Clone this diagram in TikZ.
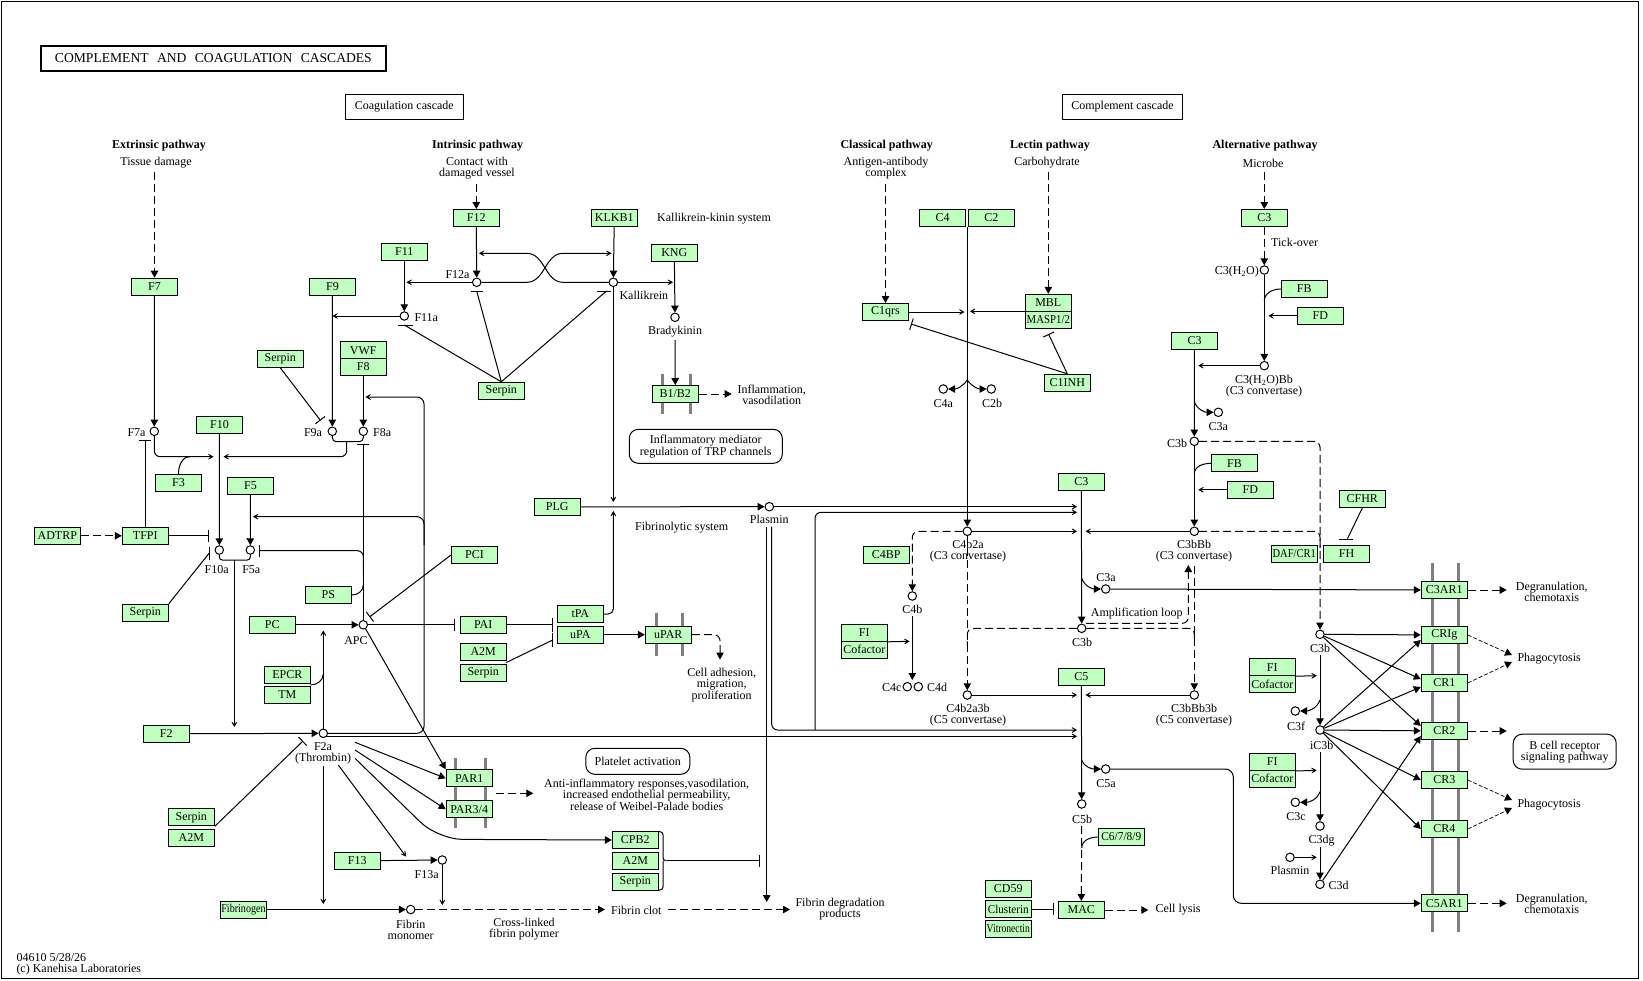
\documentclass[tikz,border=0pt]{standalone}
\usepackage{fontspec}
\usepackage{graphicx}
\setmainfont{Liberation Serif}
\usetikzlibrary{arrows.meta, positioning, calc}
\definecolor{kgreen}{HTML}{BFFFBF}
\definecolor{kgrey}{HTML}{808080}
\newcommand{\sq}[2][0.86]{\scalebox{#1}[1]{#2}}
\tikzset{
  every picture/.style={line width=1pt, x=1pt, y=-1pt},
  gene/.style={draw, fill=kgreen, minimum width=46pt, minimum height=17pt, inner sep=0pt, font=\fontsize{12}{12}\selectfont},
  cpd/.style={circle, draw, fill=white, minimum size=8.5pt, inner sep=0pt},
  lbl/.style={font=\fontsize{12}{11}\selectfont, inner sep=0pt, align=center},
  hdr/.style={lbl, font=\fontsize{12}{11}\selectfont\bfseries},
  mapbox/.style={draw, lbl, rounded corners=9pt},
  titlebox/.style={draw, lbl},
  act/.style={-{Triangle[length=7pt,width=7.5pt]}},
  ind/.style={-{Stealth[length=8pt,width=9pt,inset=5.5pt]}},
  inh/.style={-{Bar[width=12pt]}},
  dsh/.style={dash pattern=on 8pt off 4pt},
  thindash/.style={dash pattern=on 4pt off 2pt, line width=0.7pt},
  memb/.style={draw=kgrey, line width=3pt},
}

\begin{document}
\begin{tikzpicture}
\useasboundingbox (0,0) rectangle (1643,980);
\draw (1,1) rectangle (1638,978);

% membranes
\foreach \x in {662.7, 690} \draw[memb] (\x,374.3) -- (\x,414.3);
\foreach \x in {656, 682.7} \draw[memb] (\x,613.3) -- (\x,656);
\foreach \x in {455, 485} \draw[memb] (\x,757.7) -- (\x,828.3);
\foreach \x in {1432.7, 1458.7} \draw[memb] (\x,563.3) -- (\x,931.7);

% titles and headings
\node[titlebox, line width=2pt, minimum width=345pt, minimum height=25pt, font=\fontsize{13.6}{12}\selectfont] (title) at (213.4,58.4) {COMPLEMENT\hspace{5pt} AND\hspace{5pt} COAGULATION\hspace{5pt} CASCADES};
\node[titlebox, minimum width=118pt, minimum height=25pt] (coag) at (404.3,106.8) {Coagulation cascade};
\node[titlebox, minimum width=120pt, minimum height=25pt] (comp) at (1122.5,106.8) {Complement cascade};
\node[hdr] (hext) at (159,146) {Extrinsic pathway};
\node[lbl] (text) at (156,163) {Tissue damage};
\node[hdr] (hint) at (477.7,146) {Intrinsic pathway};
\node[lbl] (tint) at (477,168.5) {Contact with\\damaged vessel};
\node[hdr] (hcla) at (886.7,146) {Classical pathway};
\node[lbl] (tcla) at (886,168.5) {Antigen-antibody\\complex};
\node[hdr] (hlec) at (1050,146) {Lectin pathway};
\node[lbl] (tlec) at (1047,163) {Carbohydrate};
\node[hdr] (halt) at (1265,146) {Alternative pathway};
\node[lbl] (talt) at (1263,163) {Microbe};
\coordinate (s7) at (154.5,172);
\coordinate (s12) at (476.3,184);
\coordinate (s1q) at (885.5,184);
\coordinate (smb) at (1048.3,172);
\coordinate (sc3) at (1264.3,172);

% coagulation genes
\node[gene] (F7) at (154.5,286.7) {F7};
\node[gene] (F9) at (332.5,286.7) {F9};
\node[gene] (F11) at (404.3,252) {F11};
\node[gene] (F12) at (476.3,218) {F12};
\node[gene] (KLKB1) at (614.3,218) {KLKB1};
\node[gene] (KNG) at (674.3,252.8) {KNG};
\node[gene] (serpA) at (501.3,390.8) {Serpin};
\node[gene] (serpB) at (280.3,358.8) {Serpin};
\node[gene] (VWF) at (363.3,350.2) {VWF};
\node[gene] (F8) at (363.3,367) {F8};
\node[gene] (F10) at (219.5,425) {F10};
\node[gene] (F3) at (178.5,482.8) {F3};
\node[gene] (F5) at (250.5,486) {F5};
\node[gene] (ADTRP) at (57.3,535.8) {ADTRP};
\node[gene] (TFPI) at (145.3,535.8) {TFPI};
\node[gene] (serpC) at (145.3,612.7) {Serpin};
\node[gene] (PS) at (328.3,595) {PS};
\node[gene] (PC) at (272.3,624.8) {PC};
\node[gene] (PCI) at (474.5,555) {PCI};
\node[gene] (PAI) at (483.2,624.8) {PAI};
\node[gene] (A2Ma) at (483.2,652) {A2M};
\node[gene] (serpD) at (483.2,672.8) {Serpin};
\node[gene] (tPA) at (580.3,614) {tPA};
\node[gene] (uPA) at (580.3,634.7) {uPA};
\node[gene] (PLG) at (557.3,506.8) {PLG};
\node[gene] (uPAR) at (668.3,634.7) {uPAR};
\node[gene] (B1B2) at (675.3,394) {B1/B2};
\node[gene] (EPCR) at (287.3,675) {EPCR};
\node[gene] (TM) at (287.3,695) {TM};
\node[gene] (F2) at (166.3,733.8) {F2};
\node[gene] (serpE) at (191.3,817.3) {Serpin};
\node[gene] (A2Mb) at (191.3,837.8) {A2M};
\node[gene] (F13) at (357.3,860.8) {F13};
\node[gene] (FBG) at (243.5,909.5) {\sq[0.84]{Fibrinogen}};
\node[gene] (PAR1) at (469.2,778.3) {PAR1};
\node[gene] (PAR34) at (469.2,809.2) {PAR3/4};
\node[gene] (CPB2) at (635.3,840) {CPB2};
\node[gene] (A2Mc) at (635.3,860.8) {A2M};
\node[gene] (serpF) at (635.3,881.7) {Serpin};

% complement genes
\node[gene] (C4) at (942.5,218) {C4};
\node[gene] (C2) at (991.3,218) {C2};
\node[gene] (C1qrs) at (885.5,312) {C1qrs};
\node[gene] (MBL) at (1048.3,302.8) {MBL};
\node[gene] (MASP) at (1048.3,319.8) {\sq[0.9]{MASP1/2}};
\node[gene] (C1INH) at (1067.3,382.8) {C1INH};
\node[gene] (C3t) at (1264.3,218) {C3};
\node[gene] (FBa) at (1304.3,289) {FB};
\node[gene] (FDa) at (1320.3,315.8) {FD};
\node[gene] (C3r) at (1194.5,341) {C3};
\node[gene] (FBb) at (1234.5,463.3) {FB};
\node[gene] (FDb) at (1250.3,489.8) {FD};
\node[gene] (C3m) at (1081.3,482) {C3};
\node[gene] (C4BP) at (886.3,555) {C4BP};
\node[gene] (FIa) at (864.3,632.8) {FI};
\node[gene] (COFa) at (864.3,649.8) {Cofactor};
\node[gene] (C5) at (1081.3,677) {C5};
\node[gene] (C6789) at (1121.3,837) {\sq[0.95]{C6/7/8/9}};
\node[gene] (MAC) at (1081.3,910) {MAC};
\node[gene] (CD59) at (1008.3,888.8) {CD59};
\node[gene] (CLU) at (1008.3,909) {\sq[0.93]{Clusterin}};
\node[gene] (VTN) at (1008.3,929) {\sq[0.8]{Vitronectin}};
\node[gene] (CFHR) at (1362.3,499) {CFHR};
\node[gene] (FH) at (1346.5,554) {FH};
\node[gene] (DAF) at (1294.3,554) {\sq[0.88]{DAF/CR1}};
\node[gene] (FIb) at (1272.3,667.2) {FI};
\node[gene] (COFb) at (1272.3,684) {Cofactor};
\node[gene] (FIc) at (1272.3,762) {FI};
\node[gene] (COFc) at (1272.3,778.7) {Cofactor};
\node[gene] (C3AR1) at (1444.3,590) {C3AR1};
\node[gene] (CRIg) at (1444.3,635) {CRIg};
\node[gene] (CR1) at (1444.3,683) {CR1};
\node[gene] (CR2) at (1444.3,731) {CR2};
\node[gene] (CR3) at (1444.3,780) {CR3};
\node[gene] (CR4) at (1444.3,829) {CR4};
\node[gene] (C5AR1) at (1444.3,903.3) {C5AR1};

% compounds
\node[cpd] (F7a) at (154.3,431.3) {};
\node[cpd] (F9a) at (332.3,431.3) {};
\node[cpd] (F8a) at (363.3,431.3) {};
\node[cpd] (F11a) at (404.3,316) {};
\node[cpd] (F12a) at (476.7,282.3) {};
\node[cpd] (Kal) at (613.3,282.3) {};
\node[cpd] (Brady) at (675,317.3) {};
\node[cpd] (F10a) at (219.3,550) {};
\node[cpd] (F5a) at (250.3,550) {};
\node[cpd] (APC) at (363.3,624.8) {};
\node[cpd] (F2a) at (323.3,733.3) {};
\node[cpd] (Plasmin) at (769.3,506.7) {};
\node[cpd] (F13a) at (442.3,860) {};
\node[cpd] (Fmono) at (410.7,909.5) {};
\node[cpd] (C4a) at (943.3,389) {};
\node[cpd] (C2b) at (991.3,389) {};
\node[cpd] (C4b2a) at (967.3,531.3) {};
\node[cpd] (C4b) at (912.3,596) {};
\node[cpd] (C4c) at (907.3,686.7) {};
\node[cpd] (C4d) at (918.3,686.7) {};
\node[cpd] (C3h) at (1264.3,270) {};
\node[cpd] (C3hBb) at (1264.3,365.7) {};
\node[cpd] (C3a1) at (1218.3,412.3) {};
\node[cpd] (C3b1) at (1194.3,441.3) {};
\node[cpd] (C3bBb) at (1194.3,531.3) {};
\node[cpd] (C3a2) at (1105.7,589) {};
\node[cpd] (C3b2) at (1081.7,628.3) {};
\node[cpd] (C4b2a3b) at (967.3,695) {};
\node[cpd] (C3bBb3b) at (1194.3,695) {};
\node[cpd] (C5a) at (1105.7,769) {};
\node[cpd] (C5b) at (1081.7,804) {};
\node[cpd] (C3b3) at (1320,634.3) {};
\node[cpd] (iC3b) at (1320,730) {};
\node[cpd] (C3f) at (1295.3,711) {};
\node[cpd] (C3c) at (1295.3,802.3) {};
\node[cpd] (C3dg) at (1320,826) {};
\node[cpd] (Plas2) at (1290,857.3) {};
\node[cpd] (C3d) at (1320,884.3) {};

% coagulation labels
\node[lbl, anchor=east] (lF7a) at (146,432.7) {F7a};
\node[lbl, anchor=east] (lF9a) at (322.5,432.7) {F9a};
\node[lbl, anchor=west] (lF8a) at (372.7,432.7) {F8a};
\node[lbl, anchor=west] (lF11a) at (414,317.7) {F11a};
\node[lbl, anchor=east] (lF12a) at (470,275) {F12a};
\node[lbl, anchor=west] (lKal) at (619,295) {Kallikrein};
\node[lbl] (lBrady) at (675,331.7) {Bradykinin};
\node[lbl, anchor=west] (lKKS) at (656.7,219) {Kallikrein-kinin system};
\node[lbl] (lInfl) at (771.7,394.5) {Inflammation,\\vasodilation};
\node[mapbox, minimum width=153pt, minimum height=34pt] (trp) at (705.8,446.3) {Inflammatory mediator\\regulation of TRP channels};
\node[lbl] (lF10a) at (216.7,570) {F10a};
\node[lbl] (lF5a) at (251.3,570) {F5a};
\node[lbl] (lAPC) at (356,640.7) {APC};
\node[lbl] (lF2a) at (323,753.5) {F2a\\(Thrombin)};
\node[lbl] (lPlasmin) at (769.3,519.3) {Plasmin};
\node[lbl] (lFib) at (681.7,527.7) {Fibrinolytic system};
\node[lbl] (lCell) at (721.7,685) {Cell adhesion,\\migration,\\proliferation};
\node[mapbox, minimum width=104pt, minimum height=26pt] (plt) at (637.8,761.3) {Platelet activation};
\node[lbl] (lAnti) at (646.7,795) {Anti-inflammatory responses,vasodilation,\\increased endothelial permeability,\\release of Weibel-Palade bodies};
\node[lbl] (lF13a) at (426.7,875) {F13a};
\node[lbl] (lMono) at (410.7,929.5) {Fibrin\\monomer};
\node[lbl] (lCross) at (524,929.5) {Cross-linked\\fibrin polymer};
\node[lbl, anchor=west] (lClot) at (610.7,910) {Fibrin clot};
\node[lbl] (lFdp) at (840,909.5) {Fibrin degradation\\products};
\node[lbl, anchor=west, align=left] (foot) at (16,964.5) {04610 5/28/26\\(c) Kanehisa Laboratories};

% complement labels
\node[lbl] (lC4a) at (943.3,403.3) {C4a};
\node[lbl] (lC2b) at (992,403.3) {C2b};
\node[lbl] (lC4b2a) at (968,551) {C4b2a\\(C3 convertase)};
\node[lbl] (lC4b) at (912.3,609.7) {C4b};
\node[lbl, anchor=east] (lC4c) at (902,687.7) {C4c};
\node[lbl, anchor=west] (lC4d) at (926.5,687.7) {C4d};
\node[lbl, anchor=east] (lC3h) at (1259.3,272) {C3(H\textsubscript{2}O)};
\node[lbl, anchor=west] (lTick) at (1270.7,242.7) {Tick-over};
\node[lbl] (lC3hBb) at (1264,386.3) {C3(H\textsubscript{2}O)Bb\\(C3 convertase)};
\node[lbl] (lC3a1) at (1218.3,426.7) {C3a};
\node[lbl, anchor=east] (lC3b1) at (1187.7,443.7) {C3b};
\node[lbl] (lC3bBb) at (1194,551) {C3bBb\\(C3 convertase)};
\node[lbl] (lC3a2) at (1106,577.7) {C3a};
\node[lbl] (lAmp) at (1136.7,614) {Amplification loop};
\node[lbl] (lC3b2) at (1082,642.7) {C3b};
\node[lbl] (lC4b2a3b) at (968,715) {C4b2a3b\\(C5 convertase)};
\node[lbl] (lC3bBb3b) at (1194,715) {C3bBb3b\\(C5 convertase)};
\node[lbl] (lC5a) at (1106,784) {C5a};
\node[lbl] (lC5b) at (1082,819) {C5b};
\node[lbl, anchor=west] (lLysis) at (1155,910) {Cell lysis};
\node[lbl] (lC3b3) at (1320,648.3) {C3b};
\node[lbl] (lC3f) at (1296,726) {C3f};
\node[lbl] (liC3b) at (1321.7,745) {iC3b};
\node[lbl] (lC3c) at (1296,816.7) {C3c};
\node[lbl] (lC3dg) at (1321.7,840.7) {C3dg};
\node[lbl] (lPlas2) at (1290,870.7) {Plasmin};
\node[lbl, anchor=west] (lC3d) at (1328,885.7) {C3d};
\node[lbl] (lDeg1) at (1551.7,592) {Degranulation,\\chemotaxis};
\node[lbl] (lDeg2) at (1551.7,904) {Degranulation,\\chemotaxis};
\node[lbl, anchor=west] (lPha1) at (1517,659) {Phagocytosis};
\node[lbl, anchor=west] (lPha2) at (1517,805) {Phagocytosis};
\node[mapbox, minimum width=103pt, minimum height=35pt] (bcr) at (1564.7,751.7) {B cell receptor\\signaling pathway};

% --- coagulation connectors
\draw[dsh, act] (s7) -- (F7);
\draw[act] (F7) -- (F7a);
\draw[act] (F9) -- (F9a);
\draw[act] (F8) -- (F8a);
\draw[act] (F11) -- (F11a);
\draw[ind] (F11a) -- (F11a -| F9);
\draw[dsh, act] (s12) -- (F12);
\draw[act] (F12) -- (F12a);
\draw[act] (KLKB1) -- (Kal);
\coordinate (cF11l) at (406.5,282.3);
\draw[ind] (F12a) -- (cF11l);
\coordinate (cKL) at (611.5,253.3);
\coordinate (cF12r) at (479,253.3);
\draw[ind] (F12a) -- (526.7,282.3) .. controls (545,282.3) and (545,253.3) .. (563,253.3) -- (cKL);
\draw[ind] (Kal) -- (563,282.3) .. controls (545,282.3) and (545,253.3) .. (526.7,253.3) -- (cF12r);
\coordinate (cKNG) at (673,282.3);
\draw[ind] (Kal) -- (cKNG);
\draw[act] (KNG) -- (Brady);
\coordinate (sBrady) at (675,340);
\draw[act] (sBrady) -- (B1B2);
\coordinate (eB) at (731.7,394);
\draw[dsh, act] (B1B2) -- (eB);
\coordinate (bF11a) at (404.3,325);
\coordinate (bF12a) at (476.7,291);
\coordinate (bKal) at (606.5,291);
\draw (398.3,325) -- (413.3,325) (470.7,291) -- (482.7,291) (597.3,291) -- (610.7,291);
\draw (bF11a) -- (serpA.north) -- (bF12a) (serpA.north) -- (bKal);
\coordinate (cPLGt) at (613.3,502);
\draw[ind] (Kal) -- (cPLGt);
\coordinate (cPLGb) at (613.3,511);
\draw[ind, rounded corners=5pt] (tPA.east) -| (cPLGb);
\draw[act] (PLG) -- (Plasmin);
\coordinate (cC3p) at (1077,506.7);
\draw[ind] (Plasmin) -- (cC3p);
\coordinate (cF10l) at (213.5,456.7);
\draw[ind, rounded corners=6pt] (F7a) |- (cF10l);
\coordinate (cF3) at (190,456.7);
\draw (F3.north) to[out=90,in=180] (cF3);
\coordinate (cU) at (346.7,441.7);
\draw[rounded corners=4pt] (F9a) |- (cU) -| (F8a);
\coordinate (cF10r) at (223.5,456.7);
\draw[ind, rounded corners=6pt] (cU) |- (cF10r);
\coordinate (bF9a) at (320.5,420.5);
\draw[inh] (serpB.south) -- (bF9a);
\draw[act] (F10) -- (F10a);
\draw[act] (F5) -- (F5a);
\coordinate (cV) at (234.3,560);
\draw[rounded corners=3pt] (F10a) |- (cV) -| (F5a);
\coordinate (cVe) at (234.3,727);
\draw[ind] (cV) -- (cVe);
\draw[dsh, act] (ADTRP) -- (TFPI);
\coordinate (bF7a) at (145.3,440);
\draw[inh] (TFPI.north) -- (bF7a);
\coordinate (bF10a) at (209.3,535.8);
\draw[inh] (TFPI) -- (bF10a);
\coordinate (bF10b) at (209.3,553);
\draw (serpC.north east) -- (bF10b);
\draw (209.3,546.5) -- (209.3,559.5);
\coordinate (cTh1) at (424,733.3);
\coordinate (cF8r) at (365.5,397);
\draw[ind, rounded corners=7pt] (F2a) -- (cTh1) |- (cF8r);
\coordinate (cTh2) at (424,545);
\coordinate (cF5r) at (253,516.7);
\draw[ind, rounded corners=7pt] (cTh2) |- (cF5r);
\coordinate (f2lo) at (326.3,736.3);
\coordinate (cC5t) at (1077,736.3);
\draw[ind] (f2lo) -- (cC5t);
\coordinate (bF8a) at (363.3,444);
\draw[inh] (APC) -- (bF8a);
\coordinate (cAPCb) at (363.3,575);
\coordinate (bF5a) at (259.3,550.7);
\draw[inh, rounded corners=6pt] (cAPCb) |- (bF5a);
\coordinate (cPS) at (363.3,585);
\draw (PS.east) to[out=0,in=-90] (cPS);
\draw[act] (PC) -- (APC);
\coordinate (bAPC) at (369.5,617);
\draw[inh] (PCI.west) -- (bAPC);
\coordinate (bPAI) at (455,624.8);
\draw[inh] (APC) -- (bPAI);
\coordinate (bPA1) at (552.7,624.8);
\draw[-{Bar[width=14pt]}] (PAI) -- (bPA1);
\coordinate (cAS) at (506.3,662.5);
\coordinate (bPA2) at (552.7,640);
\draw (cAS) -- (bPA2);
\draw (552.7,632.5) -- (552.7,646.5);
\draw[act] (APC) -- (PAR1.north west);
\draw[act] (uPA) -- (uPAR);
\coordinate (eUPAR) at (720,659.5);
\draw[dsh, act, rounded corners=6pt] (uPAR) -| (eUPAR);
\coordinate (cTM) at (310.3,685);
\coordinate (cEP) at (323.3,674);
\draw (cTM) to[out=0,in=-90] (cEP);
\coordinate (cPCl) at (323.3,630.5);
\draw[ind] (F2a) -- (cPCl);
\draw[act] (F2) -- (F2a);
\coordinate (bF2a) at (303,741);
\draw[inh] (serpE.south east) -- (bF2a);
\coordinate (cThs) at (323.3,766);
\coordinate (cThe) at (323.3,904);
\draw[ind] (cThs) -- (cThe);
\draw[act] (FBG) -- (Fmono);
\coordinate (cF13s) at (338.3,765);
\coordinate (cF13e) at (406,856.5);
\draw[ind] (cF13s) -- (cF13e);
\draw[act] (F13) -- (F13a);
\coordinate (cF13b) at (442.3,905);
\draw[ind] (F13a) -- (cF13b);
\coordinate (eClot) at (605,909.5);
\draw[dsh, act] (Fmono) -- (eClot);
\coordinate (sClot) at (668.3,909.5);
\coordinate (eFdp) at (790,909.5);
\draw[dsh, act] (sClot) -- (eFdp);
\coordinate (sPAR1) at (355,742.3);
\coordinate (sPAR2) at (355,750);
\coordinate (sCPB) at (355,758.3);
\draw[act] (sPAR1) -- (PAR1.west);
\draw[act] (sPAR2) -- (PAR34.west);
\draw[act, rounded corners=25pt] (sCPB) -- (438,839.3) -- (CPB2.west);
\coordinate (sPARd) at (496,793.3);
\coordinate (ePARd) at (533.3,793.3);
\draw[dsh, act] (sPARd) -- (ePARd);
\draw[rounded corners=3pt] (659,831.7) -- (663,831.7) -- (663,860.7) -- (666.5,860.7) (663,860.7) -- (663,890) -- (659,890);
\coordinate (cBr) at (666.5,860.7);
\coordinate (bFdp) at (760,860.7);
\draw[inh] (cBr) -- (bFdp);
\coordinate (cPd1) at (766.7,526.7);
\coordinate (cPd2) at (766.7,902);
\draw[act] (cPd1) -- (cPd2);
\coordinate (cPd3) at (771.7,526.7);
\coordinate (cC5p) at (1077,730);
\draw[ind, rounded corners=6pt] (cPd3) |- (cC5p);
\coordinate (cTh3) at (815,730);
\coordinate (cC3t) at (1077,512.3);
\draw[ind, rounded corners=6pt] (cTh3) |- (cC3t);

% --- complement connectors
\draw[dsh, act] (s1q) -- (C1qrs);
\draw[dsh, act] (smb) -- (MBL);
\coordinate (cC42) at (967.3,226.7);
\draw[act] (cC42) -- (C4b2a);
\coordinate (cC1e) at (964.5,312);
\draw[ind] (C1qrs) -- (cC1e);
\coordinate (cMBw) at (1025.3,311.3);
\coordinate (cMBe) at (970,311.3);
\draw[ind] (cMBw) -- (cMBe);
\coordinate (cC4br) at (967.3,380);
\draw[act] (cC4br) to[out=-125,in=0] (C4a);
\draw[act] (cC4br) to[out=-55,in=180] (C2b);
\coordinate (cMASPb) at (1048.5,334);
\draw[inh] (C1INH.north) -- (cMASPb);
\coordinate (cC1qb) at (911,324);
\draw[inh] (C1INH.north) -- (cC1qb);
\draw[dsh, act] (sc3) -- (C3t);
\draw[dsh, act] (C3t) -- (C3h);
\draw[act] (C3h) -- (C3hBb);
\coordinate (cFBa) at (1264.3,301);
\draw (FBa.west) to[out=180,in=90] (cFBa);
\coordinate (cFDa) at (1268.5,315.8);
\draw[ind] (FDa) -- (cFDa);
\coordinate (cC3hBbe) at (1198.3,365.7);
\draw[ind] (C3hBb) -- (cC3hBbe);
\draw[act] (C3r) -- (C3b1);
\coordinate (cC3a1) at (1194.3,401.7);
\draw[act] (cC3a1) to[out=-70,in=180] (C3a1);
\coordinate (cFBb) at (1194.3,474);
\draw (FBb.west) to[out=180,in=90] (cFBb);
\coordinate (cFDb) at (1198.3,489.8);
\draw[ind] (FDb) -- (cFDb);
\draw[act] (C3b1) -- (C3bBb);
\coordinate (cC3m1) at (1085.5,531.3);
\draw[ind] (C3bBb) -- (cC3m1);
\draw[dsh, act, rounded corners=6pt] (C3b1) -| (C3b3);
\coordinate (cDj) at (1320,548);
\draw[dsh, rounded corners=6pt] (C3bBb) -| (cDj);
\draw[act] (C3m) -- (C3b2);
\coordinate (cC3a2) at (1081.7,578.3);
\draw[act] (cC3a2) to[out=-70,in=180] (C3a2);
\draw[act] (C3a2) -- (C3AR1);
\coordinate (cAmp0) at (1086,623.3);
\coordinate (cAmp1) at (1188.3,565);
\draw[dsh, act, rounded corners=6pt] (cAmp0) -| (cAmp1);
\coordinate (cL5) at (967.3,645);
\coordinate (cR5) at (1194.3,645);
\draw[dsh, rounded corners=6pt] (C3b2) -| (cL5);
\draw[dsh, rounded corners=6pt] (C3b2) -| (cR5);
\draw[dsh, act] (C4b2a) -- (C4b2a3b);
\coordinate (cR5t) at (1194.3,566);
\draw[dsh, act] (cR5t) -- (C3bBb3b);
\draw[dsh, act, rounded corners=6pt] (C4b2a) -| (C4b);
\coordinate (cC3m2) at (1077,531.3);
\draw[ind] (C4b2a) -- (cC3m2);
\coordinate (cC4bs) at (912.3,616);
\coordinate (cC4be) at (912.3,680);
\draw[act] (cC4bs) -- (cC4be);
\coordinate (cFIa) at (909.5,641.3);
\draw[ind] (FIa.south east) -- (cFIa);
\coordinate (cC5l) at (1077,695);
\coordinate (cC5r) at (1085.5,695);
\draw[ind] (C4b2a3b) -- (cC5l);
\draw[ind] (C3bBb3b) -- (cC5r);
\draw[act] (C5) -- (C5b);
\coordinate (cC5a) at (1081.7,760);
\draw[act] (cC5a) to[out=-70,in=180] (C5a);
\coordinate (cC5d) at (1233.3,903.3);
\draw[act, rounded corners=8pt] (C5a) -| (cC5d) -- (C5AR1);
\coordinate (cC5bs) at (1081.7,826);
\draw[dsh, act] (cC5bs) -- (MAC);
\coordinate (cC69) at (1081.7,848);
\draw (C6789.west) to[out=180,in=90] (cC69);
\coordinate (cMACb) at (1054,909);
\draw[inh] (CLU) -- (cMACb);
\coordinate (cLysis) at (1148.3,910);
\draw[dsh, act] (MAC) -- (cLysis);
\coordinate (cCFHR) at (1347.3,539);
\draw (CFHR.south) -- (cCFHR);
\draw (1339.3,539) -- (1353,539);
\draw[act] (C3b3) -- (CRIg);
\draw[act] (C3b3) -- ([yshift=4pt]CR1.west);
\draw[act] (C3b3) -- ([yshift=5pt]CR2.west);
\draw[act] (iC3b) -- ([yshift=-5pt]CRIg.west);
\draw[act] (iC3b) -- ([yshift=-4pt]CR1.west);
\draw[act] (iC3b) -- (CR2);
\draw[act] (iC3b) -- (CR3.west);
\draw[act] (iC3b) -- (CR4.west);
\draw[act] (C3d) -- ([yshift=-5pt]CR2.west);
\coordinate (cC3b3s) at (1320,655);
\draw[act] (cC3b3s) -- (iC3b);
\coordinate (cFIb) at (1316.7,675.7);
\draw[ind] (FIb.south east) -- (cFIb);
\coordinate (cC3f) at (1320,700);
\draw[act] (cC3f) to[out=-110,in=0] (C3f);
\coordinate (ciC3bs) at (1320,752);
\draw[act] (ciC3bs) -- (C3dg);
\coordinate (cFIc) at (1316.7,770.3);
\draw[ind] (FIc.south east) -- (cFIc);
\coordinate (cC3c) at (1320,791.7);
\draw[act] (cC3c) to[out=-110,in=0] (C3c);
\coordinate (cC3dgs) at (1320,847);
\draw[act] (cC3dgs) -- (C3d);
\coordinate (cPl2) at (1316.7,857.3);
\draw[ind] (Plas2) -- (cPl2);
\coordinate (eC3AR1) at (1506.7,590);
\draw[dsh, act] (C3AR1) -- (eC3AR1);
\coordinate (eC5AR1) at (1506.7,903.3);
\draw[dsh, act] (C5AR1) -- (eC5AR1);
\coordinate (eCR2) at (1506.7,731);
\draw[dsh, act] (CR2) -- (eCR2);
\coordinate (ePh1a) at (1512,655);
\coordinate (ePh1b) at (1512,662);
\coordinate (ePh2a) at (1512,800);
\coordinate (ePh2b) at (1512,808);
\draw[thindash, act] (CRIg.east) -- (ePh1a);
\draw[thindash, act] (CR1.east) -- (ePh1b);
\draw[thindash, act] (CR3.east) -- (ePh2a);
\draw[thindash, act] (CR4.east) -- (ePh2b);
\end{tikzpicture}
\end{document}
